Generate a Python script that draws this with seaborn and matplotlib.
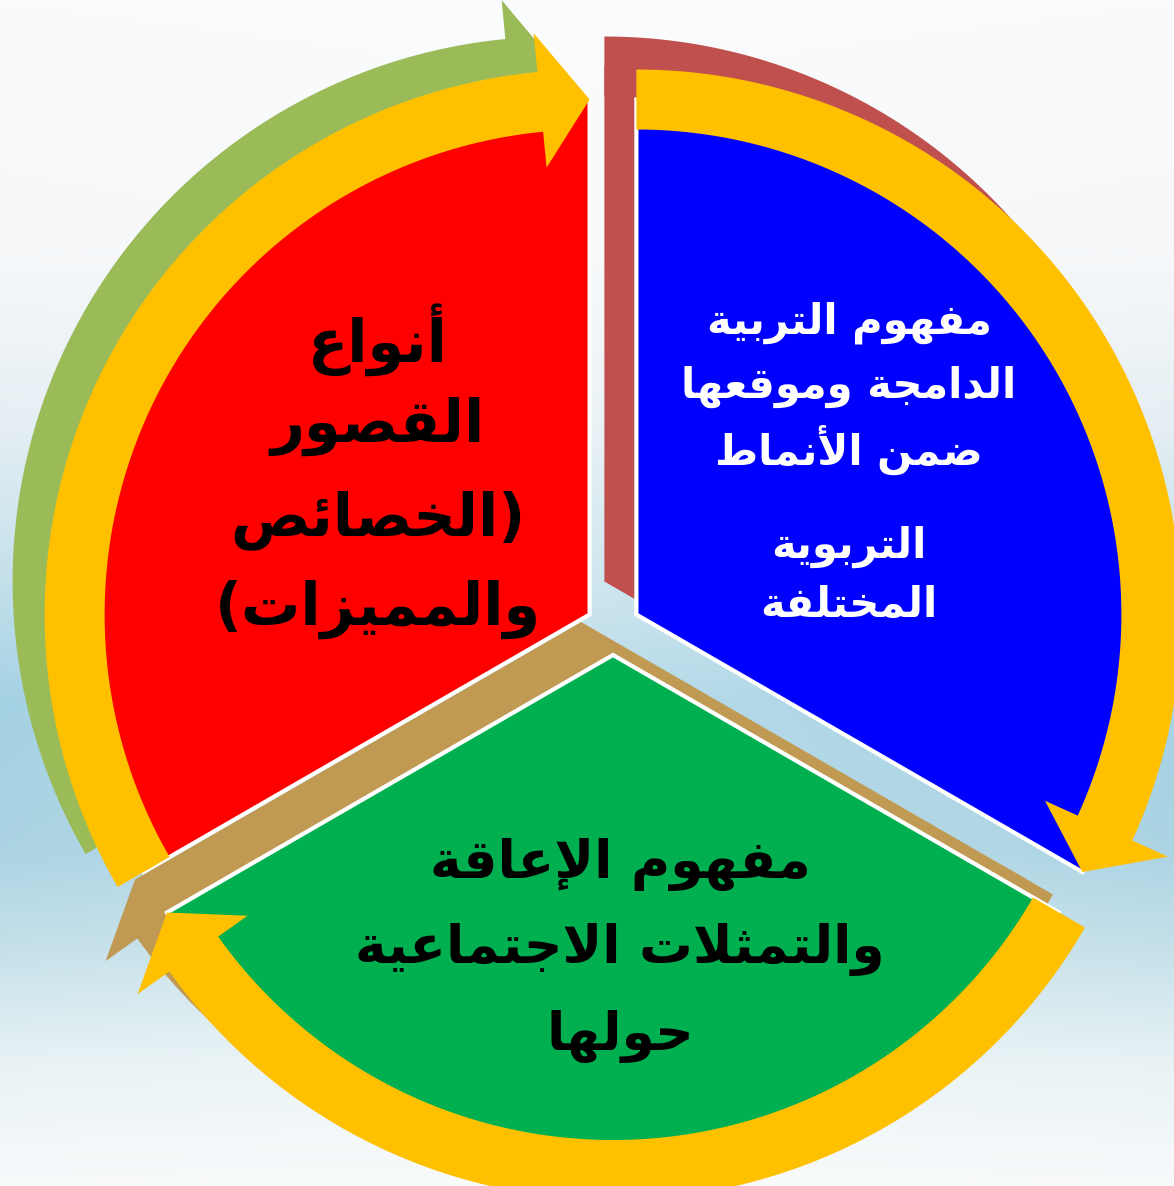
import numpy as np
import matplotlib
matplotlib.use("Agg")
import matplotlib.pyplot as plt
import seaborn as sns
from matplotlib.patches import Wedge, Polygon

# ---------------- data ----------------
segment_names = ["blue", "green", "red"]
segment_values = [1, 1, 1]
segment_colors = ["#0000FF", "#00B050", "#FF0000"]
shadow_colors = ["#C0504D", "#C09A52", "#9BBB59"]
text_colors = ["white", "black", "black"]
arrow_color = "#FFC000"

blue_lines = ["مفهوم التربية", "الدامجة وموقعها", "ضمن الأنماط", "التربوية", "المختلفة"]
green_lines = ["مفهوم الإعاقة", "والتمثلات الاجتماعية", "حولها"]
red_lines = ["أنواع", "القصور", "(الخصائص", "والمميزات)"]

# ---------------- simple Arabic shaping (presentation forms + RTL) ----------------
_FORMS = {
    0x0621: (0xFE80, 1), 0x0622: (0xFE81, 2), 0x0623: (0xFE83, 2), 0x0624: (0xFE85, 2),
    0x0625: (0xFE87, 2), 0x0626: (0xFE89, 4), 0x0627: (0xFE8D, 2), 0x0628: (0xFE8F, 4),
    0x0629: (0xFE93, 2), 0x062A: (0xFE95, 4), 0x062B: (0xFE99, 4), 0x062C: (0xFE9D, 4),
    0x062D: (0xFEA1, 4), 0x062E: (0xFEA5, 4), 0x062F: (0xFEA9, 2), 0x0630: (0xFEAB, 2),
    0x0631: (0xFEAD, 2), 0x0632: (0xFEAF, 2), 0x0633: (0xFEB1, 4), 0x0634: (0xFEB5, 4),
    0x0635: (0xFEB9, 4), 0x0636: (0xFEBD, 4), 0x0637: (0xFEC1, 4), 0x0638: (0xFEC5, 4),
    0x0639: (0xFEC9, 4), 0x063A: (0xFECD, 4), 0x0641: (0xFED1, 4), 0x0642: (0xFED5, 4),
    0x0643: (0xFED9, 4), 0x0644: (0xFEDD, 4), 0x0645: (0xFEE1, 4), 0x0646: (0xFEE5, 4),
    0x0647: (0xFEE9, 4), 0x0648: (0xFEED, 2), 0x0649: (0xFEEF, 2), 0x064A: (0xFEF1, 4),
}
_LAMALEF = {0x0622: 0xFEF5, 0x0623: 0xFEF7, 0x0625: 0xFEF9, 0x0627: 0xFEFB}


def shape_ar(s):
    items = []
    i = 0
    while i < len(s):
        c = ord(s[i])
        if c == 0x0644 and i + 1 < len(s) and ord(s[i + 1]) in _LAMALEF:
            items.append(("LA", ord(s[i + 1])))
            i += 2
        else:
            items.append(("C", c))
            i += 1

    def nj(it):
        if it[0] == "LA":
            return 2
        return _FORMS.get(it[1], (0, 0))[1]

    out = []
    for k, it in enumerate(items):
        n = nj(it)
        prev = items[k - 1] if k > 0 else None
        nxt = items[k + 1] if k + 1 < len(items) else None
        jp = n >= 2 and prev is not None and nj(prev) == 4
        jn = n == 4 and nxt is not None and nj(nxt) >= 2
        if it[0] == "LA":
            out.append(chr(_LAMALEF[it[1]] + (1 if jp else 0)))
        elif n == 0:
            out.append(chr(it[1]))
        else:
            base = _FORMS[it[1]][0]
            if n == 1:
                f = 0
            elif jp and jn:
                f = 3
            elif jn:
                f = 2
            elif jp:
                f = 1
            else:
                f = 0
            out.append(chr(base + f))
    vis = "".join(reversed(out))
    return vis.translate(str.maketrans("()", ")("))


# ---------------- figure ----------------
sns.set_theme(style="white")
plt.rcParams["font.family"] = ["DejaVu Sans"]

W, H = 1174, 1186
fig = plt.figure(figsize=(W / 100, H / 100), dpi=100)
ax = fig.add_axes([0, 0, 1, 1])

# background sky gradient
ys = np.array([0, 250, 420, 560, 700, 850, 950, 1060, 1186])
cols = np.array([
    [250, 251, 252], [246, 248, 250], [230, 239, 244], [200, 226, 236],
    [165, 210, 228], [172, 212, 227], [198, 225, 234], [232, 242, 245], [248, 250, 251],
]) / 255.0
yy = np.arange(0, H, 2)
xx = np.linspace(0, 1, W // 2)
vert = np.stack([np.interp(yy, ys, cols[:, c]) for c in range(3)], axis=1)
edge = 0.8 + 0.2 * np.abs(xx - 0.5) * 2
bg = np.empty((len(yy), len(xx), 3))
for c in range(3):
    diff = vert[:, c][:, None] - 1.0
    bg[:, :, c] = 1.0 + diff * edge[None, :]
bg = np.clip(bg, 0, 1)
ax.imshow(bg, extent=[0, W, 0, H], origin="upper", aspect="auto", zorder=0)

# pie geometry (data units = pixels)
center = (613, H - 628)
R = 515
explode = 27
r_in, r_out = 485, 545
r_hin, r_hout = 449, 584
head_deg = 5.5
shadow_shift = np.array([-32, 33])

wedges, _ = ax.pie(
    segment_values, colors=segment_colors, startangle=90, counterclock=False,
    explode=[explode] * 3, radius=R, center=center, frame=True,
    wedgeprops=dict(edgecolor="white", linewidth=3),
)


def arc_arrow(c, a_start, a_end):
    a_base = a_end + head_deg
    t = np.radians(np.linspace(a_start, a_base, 120))
    outer = np.c_[c[0] + r_out * np.cos(t), c[1] + r_out * np.sin(t)]
    inner = np.c_[c[0] + r_in * np.cos(t[::-1]), c[1] + r_in * np.sin(t[::-1])]
    tb, te = np.radians(a_base), np.radians(a_end)
    r_tip = (r_in + r_out) / 2
    head = np.array([
        [c[0] + r_hout * np.cos(tb), c[1] + r_hout * np.sin(tb)],
        [c[0] + r_tip * np.cos(te), c[1] + r_tip * np.sin(te)],
        [c[0] + r_hin * np.cos(tb), c[1] + r_hin * np.sin(tb)],
    ])
    return np.vstack([outer, head, inner])


for w, sc in zip(wedges, shadow_colors):
    c = np.array(w.center)
    a_start, a_end = w.theta2, w.theta1
    cs = c + shadow_shift
    ax.add_patch(Wedge(tuple(cs), R, w.theta1, w.theta2, facecolor=sc, edgecolor="none", zorder=1))
    ax.add_patch(Polygon(arc_arrow(cs, a_start, a_end), closed=True, facecolor=sc,
                         edgecolor="none", zorder=1))
    w.set_zorder(2)
    ax.add_patch(Polygon(arc_arrow(c, a_start, a_end), closed=True, facecolor=arrow_color,
                         edgecolor="none", zorder=3))

# text
text_specs = [
    (blue_lines, text_colors[0], 30, 849, [333, 398, 465, 558, 617]),
    (green_lines, text_colors[1], 38.5, 620, [878, 963, 1050]),
    (red_lines, text_colors[2], 42.5, 378, [362, 442, 535, 625]),
]
for lines, tc, fs, xc, bases in text_specs:
    for line, yb in zip(lines, bases):
        ax.text(xc, H - yb, shape_ar(line), ha="center", va="baseline", color=tc,
                fontsize=fs, fontweight="bold", zorder=5)

ax.set_xlim(0, W)
ax.set_ylim(0, H)
ax.set_aspect("equal")
ax.axis("off")

fig.savefig("out.png", dpi=100)
